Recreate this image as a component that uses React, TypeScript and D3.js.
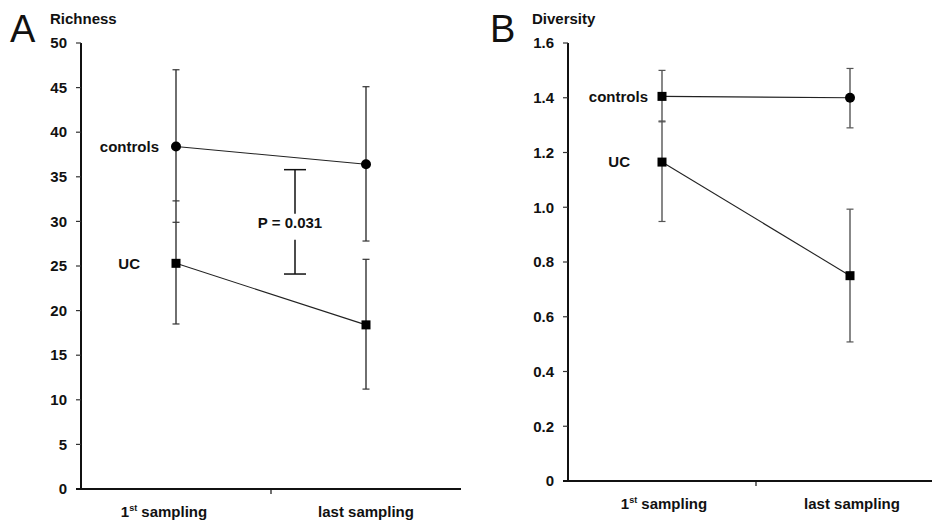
import React from "react";
import * as d3 from "d3";

const categories = ["1st", "last"];
const richnessTicks = [0, 5, 10, 15, 20, 25, 30, 35, 40, 45, 50];
const diversityTicks = [0, 0.2, 0.4, 0.6, 0.8, 1.0, 1.2, 1.4, 1.6];

const richControls = [38.4, 36.4];
const richControlsLow = [32.3, 27.8];
const richControlsHigh = [47.0, 45.1];
const richUC = [25.3, 18.4];
const richUCLow = [18.5, 11.2];
const richUCHigh = [29.9, 25.75];
const richControlsMarkers = ["circle", "circle"];
const richUCMarkers = ["square", "square"];

const divControls = [1.405, 1.4];
const divControlsLow = [1.312, 1.29];
const divControlsHigh = [1.5, 1.507];
const divUC = [1.165, 0.75];
const divUCLow = [0.948, 0.508];
const divUCHigh = [1.315, 0.993];
const divControlsMarkers = ["square", "circle"];
const divUCMarkers = ["square", "square"];

// whisker drawn continuously between the two series at these categories
const joinedWhiskers = ["1st"];

const pBracket = [24.1, 35.8];
const pLabel = "P = 0.031";

const FONT = "'Liberation Sans', Arial, sans-serif";

type Series = {
  label: string;
  values: number[];
  low: number[];
  high: number[];
  markers: string[];
};

function Panel(props: {
  letter: string;
  title: string;
  x0: number;
  x1: number;
  yTop: number;
  yBottom: number;
  domainMax: number;
  ticks: number[];
  tickFmt: (v: number) => string;
  series: Series[];
  labelOffsets: number[];
  catLabelShift: number[];
  errColor: string;
  letterX: number;
  titleX: number;
  children?: (x: d3.ScaleBand<string>, y: d3.ScaleLinear<number, number>) => React.ReactNode;
}) {
  const { x0, x1, yTop, yBottom } = props;
  const x = d3.scaleBand<string>().domain(categories).range([x0, x1]).padding(0);
  const y = d3.scaleLinear().domain([0, props.domainMax]).range([yBottom, yTop]);
  const cx = (c: string) => (x(c) as number) + x.bandwidth() / 2;
  const line = d3
    .line<number>()
    .x((_, i) => cx(categories[i]))
    .y((d) => y(d));
  const [top, bottom] = props.series;
  return (
    <g>
      <text x={props.letterX} y={42} fontFamily={FONT} fontSize={38} fill="#111">
        {props.letter}
      </text>
      <text x={props.titleX} y={24} fontFamily={FONT} fontSize={15} fontWeight="bold" fill="#111">
        {props.title}
      </text>
      {/* y axis */}
      <line x1={x0} x2={x0} y1={y(props.domainMax)} y2={yBottom} stroke="#111" strokeWidth={2} />
      {props.ticks.map((t) => (
        <g key={t}>
          <line x1={x0 - 5} x2={x0} y1={y(t)} y2={y(t)} stroke="#333" strokeWidth={1.2} />
          <text
            x={x0 - 14}
            y={y(t)}
            dy="0.35em"
            textAnchor="end"
            fontFamily={FONT}
            fontSize={15}
            fontWeight="bold"
            fill="#111"
          >
            {props.tickFmt(t)}
          </text>
        </g>
      ))}
      {/* x axis */}
      <line x1={x0 - 5} x2={x1} y1={yBottom} y2={yBottom} stroke="#111" strokeWidth={2} />
      {categories.slice(1).map((c) => (
        <line key={c} x1={x(c)} x2={x(c)} y1={yBottom} y2={yBottom + 5} stroke="#111" strokeWidth={1.2} />
      ))}
      {categories.map((c, ci) => (
        <text
          key={c}
          x={cx(c) + props.catLabelShift[ci]}
          y={yBottom + 28}
          textAnchor="middle"
          fontFamily={FONT}
          fontSize={15}
          fontWeight="bold"
          fill="#111"
        >
          {c === "1st" ? (
            <>
              1<tspan fontSize={9} dy={-6}>st</tspan>
              <tspan dy={6}> sampling</tspan>
            </>
          ) : (
            "last sampling"
          )}
        </text>
      ))}
      {categories.map((c, i) =>
        joinedWhiskers.includes(c) && top.low[i] > bottom.high[i] ? (
          <line
            key={"gap" + c}
            x1={cx(c)}
            x2={cx(c)}
            y1={y(top.low[i])}
            y2={y(bottom.high[i])}
            stroke={props.errColor}
            strokeWidth={1.4}
          />
        ) : null
      )}
      {props.series.map((s, si) => (
        <g key={s.label}>
          <path d={line(s.values) || ""} fill="none" stroke="#222" strokeWidth={1.1} />
          {s.values.map((v, i) => {
            const px = cx(categories[i]);
            return (
              <g key={i}>
                <line x1={px} x2={px} y1={y(s.low[i])} y2={y(s.high[i])} stroke={props.errColor} strokeWidth={1.4} />
                <line x1={px - 3.5} x2={px + 3.5} y1={y(s.low[i])} y2={y(s.low[i])} stroke={props.errColor} strokeWidth={1.2} />
                <line x1={px - 3.5} x2={px + 3.5} y1={y(s.high[i])} y2={y(s.high[i])} stroke={props.errColor} strokeWidth={1.2} />
                {s.markers[i] === "circle" ? (
                  <circle cx={px} cy={y(v)} r={5} fill="#000" />
                ) : (
                  <rect x={px - 4.5} y={y(v) - 4.5} width={9} height={9} fill="#000" />
                )}
              </g>
            );
          })}
          <text
            x={cx(categories[0]) - props.labelOffsets[si]}
            y={y(s.values[0])}
            dy="0.35em"
            textAnchor="end"
            fontFamily={FONT}
            fontSize={15}
            fontWeight="bold"
            fill="#111"
          >
            {s.label}
          </text>
        </g>
      ))}
      {props.children ? props.children(x, y) : null}
    </g>
  );
}

export default function App() {
  const richSeries: Series[] = [
    { label: "controls", values: richControls, low: richControlsLow, high: richControlsHigh, markers: richControlsMarkers },
    { label: "UC", values: richUC, low: richUCLow, high: richUCHigh, markers: richUCMarkers },
  ];
  const divSeries: Series[] = [
    { label: "controls", values: divControls, low: divControlsLow, high: divControlsHigh, markers: divControlsMarkers },
    { label: "UC", values: divUC, low: divUCLow, high: divUCHigh, markers: divUCMarkers },
  ];
  return (
    <svg
      width={932}
      height={521}
      style={{ position: "absolute", left: 0, top: 0, background: "#fff" }}
    >
      <rect width={932} height={521} fill="#fff" />
      <Panel
        letter="A"
        title="Richness"
        x0={81}
        x1={461}
        yTop={43}
        yBottom={489}
        domainMax={50}
        ticks={richnessTicks}
        tickFmt={(v) => String(v)}
        series={richSeries}
        labelOffsets={[17, 36]}
        catLabelShift={[-12, 0]}
        errColor="#333"
        letterX={10}
        titleX={50}
      >
        {(x, y) => {
          const bx = 295;
          const textY = y((pBracket[0] + pBracket[1]) / 2) + 1;
          return (
            <g>
              <line x1={bx} x2={bx} y1={y(pBracket[1])} y2={textY - 9} stroke="#111" strokeWidth={1.5} />
              <line x1={bx} x2={bx} y1={textY + 17} y2={y(pBracket[0])} stroke="#111" strokeWidth={1.5} />
              <line x1={bx - 11} x2={bx + 11} y1={y(pBracket[1])} y2={y(pBracket[1])} stroke="#111" strokeWidth={1.5} />
              <line x1={bx - 11} x2={bx + 11} y1={y(pBracket[0])} y2={y(pBracket[0])} stroke="#111" strokeWidth={1.5} />
              <text
                x={bx - 5}
                y={textY}
                dy="0.35em"
                textAnchor="middle"
                fontFamily={FONT}
                fontSize={15}
                fontWeight="bold"
                fill="#111"
              >
                {pLabel}
              </text>
            </g>
          );
        }}
      </Panel>
      <Panel
        letter="B"
        title="Diversity"
        x0={568}
        x1={944}
        yTop={43}
        yBottom={481}
        domainMax={1.6}
        ticks={diversityTicks}
        tickFmt={(v) => (v === 0 ? "0" : d3.format(".1f")(v))}
        series={divSeries}
        labelOffsets={[14, 32]}
        catLabelShift={[2, 2]}
        errColor="#555"
        letterX={490}
        titleX={532}
      />
    </svg>
  );
}
